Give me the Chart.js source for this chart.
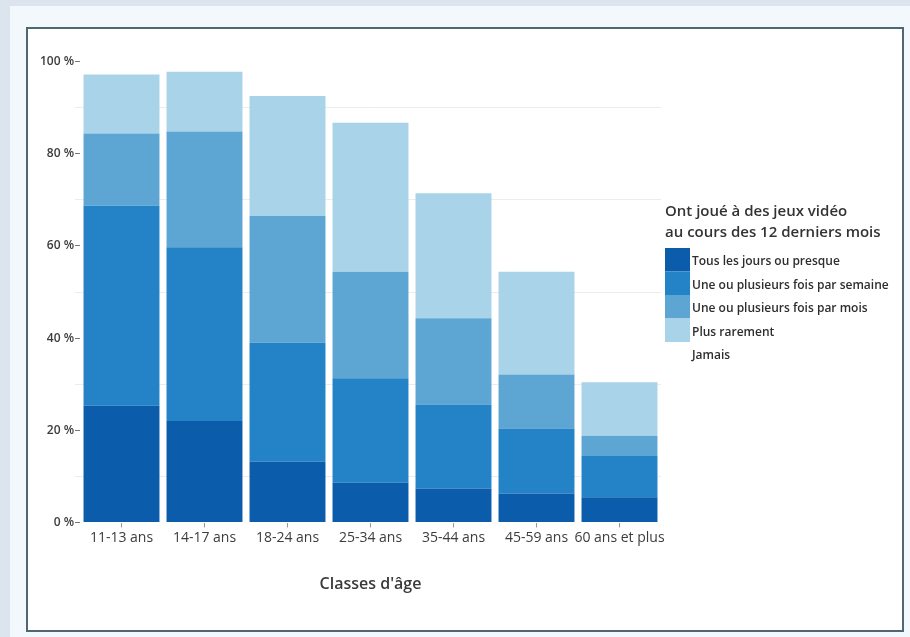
<!DOCTYPE html>
<html lang="fr">
<head>
<meta charset="utf-8">
<title>Pratique des jeux vidéo selon l'âge</title>
<script src="https://cdn.jsdelivr.net/npm/chart.js@4/dist/chart.umd.min.js"></script>
<style>
  html, body { margin: 0; padding: 0; }
  body { width: 910px; height: 637px; background: #dce5ee; position: relative; overflow: hidden; }
  #sheet { position: absolute; left: 10px; top: 6px; width: 900px; height: 631px; background: #f2f8fb; }
  #frame { position: absolute; left: 26px; top: 27px; width: 874px; height: 601px; border: 2px solid #4f6773; background: #ffffff; }
  #chart { position: absolute; left: 0; top: 0; }
</style>
</head>
<body>
<div id="sheet"></div>
<div id="frame"></div>
<canvas id="chart" width="910" height="637"></canvas>
<script>
// Classes d'âge
const categories = ['11-13 ans', '14-17 ans', '18-24 ans', '25-34 ans', '35-44 ans', '45-59 ans', '60 ans et plus'];

// Fréquence de jeu (% de chaque classe d'âge)
const tousLesJours   = [25.3, 22.0, 13.2, 8.6, 7.4, 6.3, 5.5];
const uneParSemaine  = [43.4, 37.7, 25.8, 22.7, 18.2, 14.1, 8.9];
const uneParMois     = [15.7, 25.1, 27.5, 23.1, 18.7, 11.7, 4.4];
const plusRarement   = [12.8, 13.0, 26.0, 32.3, 27.1, 22.3, 11.6];
const jamais         = [2.8, 2.2, 7.5, 13.3, 28.6, 45.6, 69.6];

const seriesLabels = [
  'Tous les jours ou presque',
  'Une ou plusieurs fois par semaine',
  'Une ou plusieurs fois par mois',
  'Plus rarement',
  'Jamais'
];
const legendTitle = ['Ont joué à des jeux vidéo', 'au cours des 12 derniers mois'];
const axisTitle = "Classes d'âge";

const yTickValues = [0, 20, 40, 60, 80, 100];

const colors = ['#0b5cab', '#2482c7', '#5da6d4', '#a9d3e8', 'rgba(255,255,255,0)'];
const FONT = "'Open Sans', 'DejaVu Sans', sans-serif";

// Légende dessinée à droite de la zone de tracé : cases empilées sans espace
const sideLegend = {
  id: 'sideLegend',
  afterDraw(chart) {
    const ctx = chart.ctx;
    const x0 = 665, titleTop = 212, rowTop = 248, rowH = 23.5, boxW = 25;
    ctx.save();
    ctx.fillStyle = '#333333';
    ctx.font = "600 15px " + FONT;
    ctx.textBaseline = 'middle';
    ctx.textAlign = 'left';
    legendTitle.forEach((t, i) => ctx.fillText(t, x0, titleTop + i * 21));
    chart.data.datasets.forEach((ds, i) => {
      const y = rowTop + i * rowH;
      if (ds.backgroundColor !== colors[4]) {
        ctx.fillStyle = ds.backgroundColor;
        ctx.fillRect(x0, y, boxW, rowH);
      }
      ctx.fillStyle = '#2e2e2e';
      ctx.font = "600 12px " + FONT;
      ctx.fillText(ds.label, x0 + 27, y + rowH / 2 + 2);
    });
    ctx.restore();
  }
};

const datasets = [tousLesJours, uneParSemaine, uneParMois, plusRarement, jamais].map((data, i) => ({
  label: seriesLabels[i],
  data: data,
  backgroundColor: colors[i],
  borderWidth: 0,
  categoryPercentage: 1.0,
  barPercentage: 0.915
}));

new Chart(document.getElementById('chart'), {
  type: 'bar',
  data: { labels: categories, datasets: datasets },
  plugins: [sideLegend],
  options: {
    responsive: false,
    animation: false,
    layout: { padding: { left: 0, top: 61.5, right: 249, bottom: 0 } },
    plugins: { legend: { display: false }, tooltip: { enabled: false } },
    scales: {
      x: {
        stacked: true,
        border: { display: false },
        grid: { offset: false, drawOnChartArea: false, drawTicks: true, tickLength: 5, tickColor: '#9a9a9a' },
        ticks: { color: '#3c3c3c', font: { family: FONT, size: 14 }, padding: 2, maxRotation: 0, autoSkip: false },
        title: {
          display: true, text: axisTitle, color: '#3a3a3a',
          font: { family: FONT, size: 16, weight: '600' },
          padding: { top: 0, bottom: 43 }
        },
        afterFit(scale) { scale.height = 114.5; }
      },
      y: {
        stacked: true,
        min: 0, max: 100,
        border: { display: false },
        afterBuildTicks(scale) {
          scale.ticks = [];
          for (let v = 0; v <= 100; v += 10) scale.ticks.push({ value: v });
        },
        grid: {
          tickLength: 5,
          color: (c) => (c.tick && c.tick.value % 20 !== 0) ? '#ececec' : 'rgba(0,0,0,0)',
          tickColor: (c) => (c.tick && c.tick.value % 20 === 0) ? '#777777' : '#ececec'
        },
        ticks: {
          padding: 1,
          color: '#3c3c3c',
          font: { family: FONT, size: 12, weight: '600' },
          callback: (v) => yTickValues.includes(v) ? v + ' %' : ''
        },
        afterFit(scale) { scale.width = 80; }
      }
    }
  }
});
</script>
</body>
</html>
